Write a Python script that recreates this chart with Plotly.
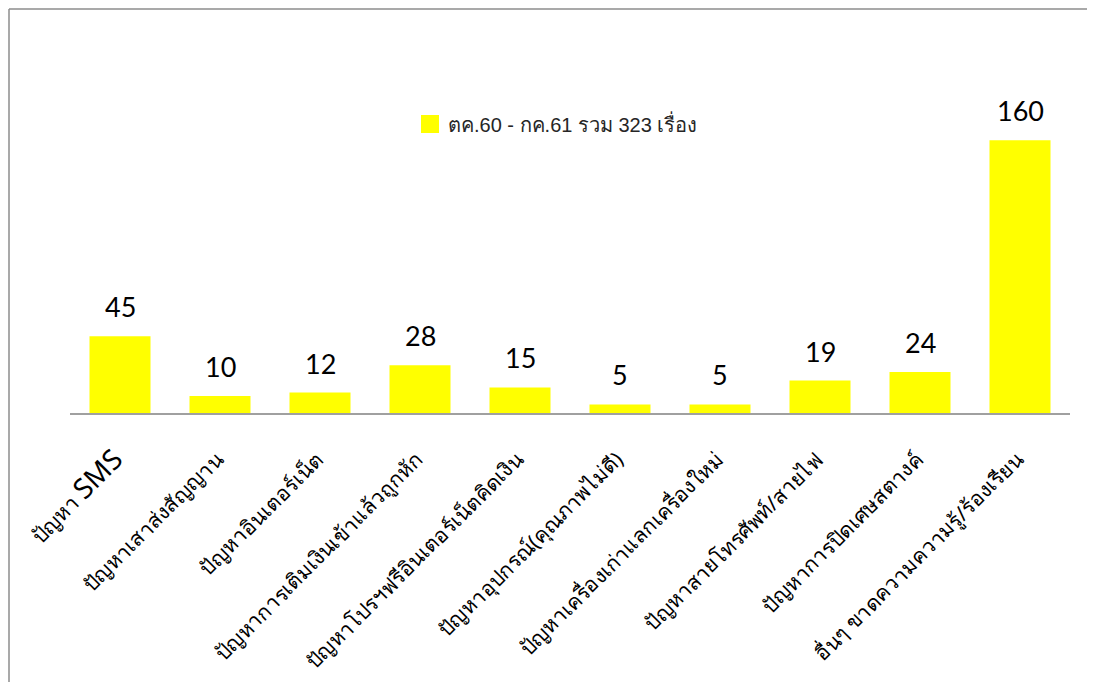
import plotly.graph_objects as go

categories = [
    "ปัญหา SMS",
    "ปัญหาเสาส่งสัญญาน",
    "ปัญหาอินเตอร์เน็ต",
    "ปัญหาการเติมเงินเข้าแล้วถูกหัก",
    "ปัญหาโปรฯฟรีอินเตอร์เน็ตคิดเงิน",
    "ปัญหาอุปกรณ์(คุณภาพไม่ดี)",
    "ปัญหาเครื่องเก่าแลกเครื่องใหม่",
    "ปัญหาสายโทรศัพท์/สายไฟ",
    "ปัญหาการปิดเศษสตางค์",
    "อื่นๆ ขาดความความรู้/ร้องเรียน",
]
tick_labels = [
    'ปัญหา <span style="font-size:28px">SMS</span>',
    "ปัญหาเสาส่งสัญญาน",
    "ปัญหาอินเตอร์เน็ต",
    "ปัญหาการเติมเงินเข้าแล้วถูกหัก",
    "ปัญหาโปรฯฟรีอินเตอร์เน็ตคิดเงิน",
    "ปัญหาอุปกรณ์(คุณภาพไม่ดี)",
    "ปัญหาเครื่องเก่าแลกเครื่องใหม่",
    "ปัญหาสายโทรศัพท์/สายไฟ",
    "ปัญหาการปิดเศษสตางค์",
    "อื่นๆ ขาดความความรู้/ร้องเรียน",
]
values = [45, 10, 12, 28, 15, 5, 5, 19, 24, 160]
series_name = "ตค.60 - กค.61 รวม 323 เรื่อง"

OFF = 8  # page body margin
W, H = 1095 - OFF, 682 - OFF
L = 70 - OFF
T = 89 - OFF
B = 682 - 413
R_ = W - L - 1000

plot_w = W - L - R_
plot_h = H - T - B

def px(xs):
    return (xs - OFF - L) / plot_w

def py(ys):
    return (H - B - (ys - OFF)) / plot_h

fig = go.Figure()
fig.add_trace(go.Bar(
    x=categories, y=values, name=series_name,
    marker=dict(color="#FFFF00", line=dict(width=0)),
    width=0.61, showlegend=False,
))

for c, v in zip(categories, values):
    fig.add_annotation(x=c, y=v, text=str(v), showarrow=False,
                       yanchor="bottom", yshift=11,
                       font=dict(family="Lato, Open Sans, sans-serif", size=27, color="#000000"))

# legend (drawn manually to match the large swatch)
fig.add_shape(type="rect", xref="paper", yref="paper",
              x0=px(421), x1=px(439), y0=py(133), y1=py(115),
              fillcolor="#FFFF00", line=dict(width=0))
fig.add_annotation(xref="paper", yref="paper", x=px(446), y=py(123),
                   xanchor="left", yanchor="middle", showarrow=False,
                   text=series_name,
                   font=dict(family="Liberation Sans, Noto Sans, sans-serif", size=20, color="#262626"))

# chart frame (top and left edges)
fig.add_shape(type="line", xref="paper", yref="paper", x0=px(9), x1=px(9),
              y0=py(690), y1=py(9), line=dict(color="#8c8c8c", width=1.5))
fig.add_shape(type="line", xref="paper", yref="paper", x0=px(9), x1=px(1100),
              y0=py(9), y1=py(9), line=dict(color="#8c8c8c", width=1.5))

fig.update_layout(
    width=W, height=H,
    margin=dict(l=L, r=R_, t=T, b=B, pad=0, autoexpand=False),
    paper_bgcolor="white", plot_bgcolor="white",
    showlegend=False,
    xaxis=dict(showline=True, linecolor="#a0a0a0", linewidth=2, ticks="",
               tickangle=-45, showgrid=False, automargin=False,
               ticklabelstandoff=24, ticklabelshift=-3,
               tickmode="array", tickvals=categories, ticktext=tick_labels,
               tickfont=dict(family="Noto Sans, sans-serif", size=21, color="#000000")),
    yaxis=dict(range=[0, 190], visible=False, showgrid=False, zeroline=False),
)

fig.write_html("out.html")
